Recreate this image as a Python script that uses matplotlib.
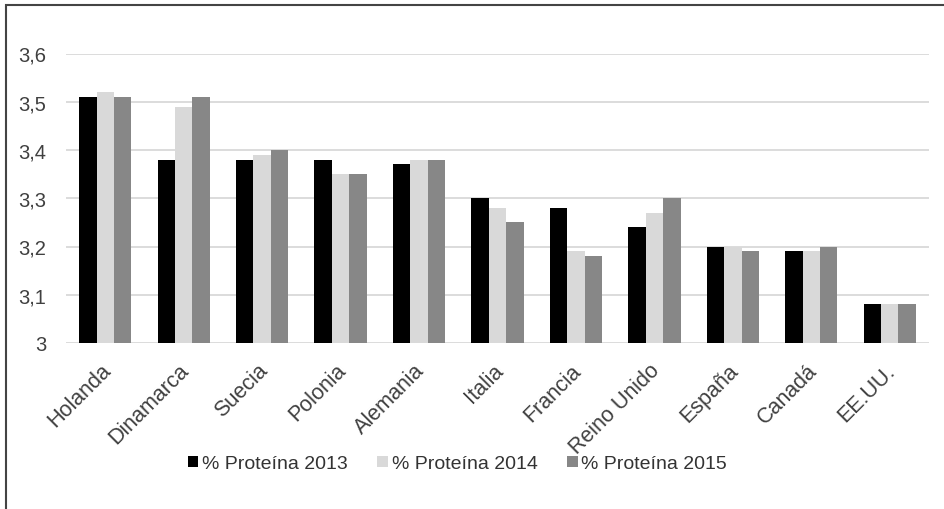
import numpy as np
import matplotlib.pyplot as plt
import matplotlib.transforms as mtransforms
from matplotlib.patches import Rectangle
from matplotlib.ticker import FuncFormatter

plt.rcParams['font.family'] = ['Liberation Sans', 'DejaVu Sans']

# Datos
paises = ["Holanda", "Dinamarca", "Suecia", "Polonia", "Alemania", "Italia",
          "Francia", "Reino Unido", "España", "Canadá", "EE.UU."]
prot_2013 = [3.51, 3.38, 3.38, 3.38, 3.37, 3.30, 3.28, 3.24, 3.20, 3.19, 3.08]
prot_2014 = [3.52, 3.49, 3.39, 3.35, 3.38, 3.28, 3.19, 3.27, 3.20, 3.19, 3.08]
prot_2015 = [3.51, 3.51, 3.40, 3.35, 3.38, 3.25, 3.18, 3.30, 3.19, 3.20, 3.08]
series = ["% Proteína 2013", "% Proteína 2014", "% Proteína 2015"]
colores = ["#000000", "#d9d9d9", "#878787"]

W, H = 944, 510
fig = plt.figure(figsize=(W / 100, H / 100), dpi=100)
fig.patch.set_facecolor("white")

# marco exterior (solo se ve arriba e izquierda)
fig.patches.append(Rectangle((6 / W, -0.2), 1.2, 1.2 - 6 / H,
                             transform=fig.transFigure, fill=False,
                             edgecolor="#444444", linewidth=1.5))

ax = fig.add_axes([66 / W, (H - 344) / H, 863 / W, (344 - 54.5) / H])

x = np.arange(len(paises))
w = 0.222
for i, (vals, lab, col) in enumerate(zip([prot_2013, prot_2014, prot_2015], series, colores)):
    ax.bar(x + (i - 1) * w, np.array(vals) - 3, bottom=3, width=w, color=col,
           label=lab, zorder=3)

ax.set_xlim(-0.5, len(paises) - 0.5)
ax.set_ylim(3, 3.6)
ax.set_yticks(np.arange(3.0, 3.61, 0.1))
ax.yaxis.set_major_formatter(FuncFormatter(
    lambda v, p: "3" if abs(v - 3) < 1e-6 else f"{v:.1f}".replace(".", ",")))
ax.grid(axis="y", color="#d9d9d9", linewidth=1.3, zorder=0)
for s in ax.spines.values():
    s.set_visible(False)
ax.tick_params(length=0, labelsize=14.5, colors="#404040", pad=14)
ax.set_xticks(x)
ax.set_xticklabels(paises, rotation=45, ha="right", rotation_mode="anchor")
ax.tick_params(axis="x", pad=12, labelsize=15.5)
offset = mtransforms.ScaledTranslation(-5 / 100, 0, fig.dpi_scale_trans)
for t in ax.get_xticklabels():
    t.set_transform(t.get_transform() + offset)

handles, labels = ax.get_legend_handles_labels()
fig.legend(handles, labels, loc="center", bbox_to_anchor=(457.5 / W, 1 - 465 / H),
           ncol=3, frameon=False, fontsize=14, handlelength=0.55, handleheight=0.55,
           handletextpad=0.2, columnspacing=1.5, labelcolor="#333333")

fig.savefig("out.png", dpi=100)
